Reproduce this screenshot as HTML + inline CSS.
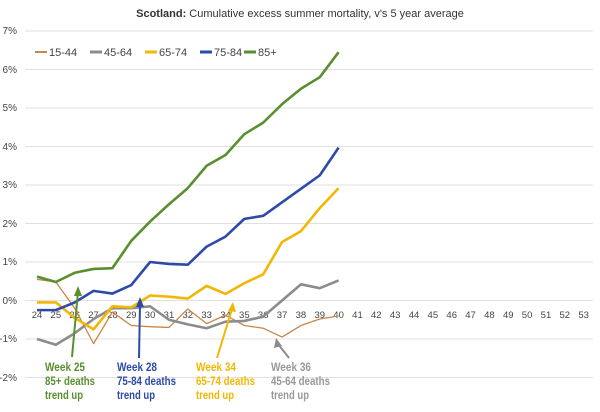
<!DOCTYPE html><html><head><style>body{margin:0;background:#fff}svg{font-family:"Liberation Sans",sans-serif}</style></head><body>
<svg width="600" height="407" viewBox="0 0 600 407" xmlns="http://www.w3.org/2000/svg">
<text x="300" y="17" text-anchor="middle" font-size="11" fill="#333"><tspan font-weight="bold">Scotland:</tspan> Cumulative excess summer mortality, v's 5 year average</text>
<g stroke="#e0e0e0" stroke-width="1">
<line x1="25" x2="593" y1="31" y2="31"/><line x1="25" x2="593" y1="69.5" y2="69.5"/><line x1="25" x2="593" y1="108" y2="108"/><line x1="25" x2="593" y1="146.5" y2="146.5"/><line x1="25" x2="593" y1="185" y2="185"/><line x1="25" x2="593" y1="223.5" y2="223.5"/><line x1="25" x2="593" y1="262" y2="262"/><line x1="25" x2="593" y1="300.5" y2="300.5"/><line x1="25" x2="593" y1="339" y2="339"/><line x1="25" x2="593" y1="377.5" y2="377.5"/>
</g>
<g font-size="10" fill="#444" text-anchor="end">
<text x="17" y="34">7%</text><text x="17" y="73">6%</text><text x="17" y="111">5%</text><text x="17" y="150">4%</text><text x="17" y="188">3%</text><text x="17" y="227">2%</text><text x="17" y="265">1%</text><text x="17" y="304">0%</text><text x="17" y="342">-1%</text><text x="17" y="381">-2%</text>
</g>
<g font-size="9.5" fill="#444" text-anchor="middle" id="xl"></g>
<g id="series" fill="none" stroke-linejoin="round"></g>
<g font-size="11" fill="#444">
<line x1="35" x2="47" y1="52" y2="52" stroke="#c8864a" stroke-width="2"/><text x="49" y="56">15-44</text>
<line x1="90" x2="102" y1="52" y2="52" stroke="#8c8c8c" stroke-width="3"/><text x="104" y="56">45-64</text>
<line x1="145" x2="157" y1="52" y2="52" stroke="#f2b705" stroke-width="3"/><text x="159" y="56">65-74</text>
<line x1="200" x2="212" y1="52" y2="52" stroke="#2e4aa8" stroke-width="3"/><text x="214" y="56">75-84</text>
<line x1="244" x2="256" y1="52" y2="52" stroke="#5a8f2e" stroke-width="3"/><text x="258" y="56">85+</text>
</g>
<g stroke-width="2" fill="none">
<line x1="72" y1="357" x2="78" y2="292" stroke="#5a8f2e"/><polygon points="78,286 74,296 82,296" fill="#5a8f2e" stroke="none"/>
<line x1="139" y1="358" x2="140" y2="304" stroke="#2e4aa8"/><polygon points="140,297 136,307 144,307" fill="#2e4aa8" stroke="none"/>
<line x1="217" y1="358" x2="232" y2="309" stroke="#f2b705"/><polygon points="233,302 228,311 236,312" fill="#f2b705" stroke="none"/>
<line x1="289" y1="358" x2="278" y2="344" stroke="#8c8c8c"/><polygon points="276,338 274,348 282,346" fill="#8c8c8c" stroke="none"/>
</g>
<g font-size="12" font-weight="bold">
<text fill="#5a8f2e"><tspan x="45" y="371" textLength="40" lengthAdjust="spacingAndGlyphs">Week 25</tspan><tspan x="45" y="385" textLength="50" lengthAdjust="spacingAndGlyphs">85+ deaths</tspan><tspan x="45" y="399" textLength="38" lengthAdjust="spacingAndGlyphs">trend up</tspan></text>
<text fill="#2e4aa8"><tspan x="117" y="371" textLength="40" lengthAdjust="spacingAndGlyphs">Week 28</tspan><tspan x="117" y="385" textLength="59" lengthAdjust="spacingAndGlyphs">75-84 deaths</tspan><tspan x="117" y="399" textLength="38" lengthAdjust="spacingAndGlyphs">trend up</tspan></text>
<text fill="#f2b705"><tspan x="196" y="371" textLength="40" lengthAdjust="spacingAndGlyphs">Week 34</tspan><tspan x="196" y="385" textLength="59" lengthAdjust="spacingAndGlyphs">65-74 deaths</tspan><tspan x="196" y="399" textLength="38" lengthAdjust="spacingAndGlyphs">trend up</tspan></text>
<text fill="#999"><tspan x="271" y="371" textLength="40" lengthAdjust="spacingAndGlyphs">Week 36</tspan><tspan x="271" y="385" textLength="59" lengthAdjust="spacingAndGlyphs">45-64 deaths</tspan><tspan x="271" y="399" textLength="38" lengthAdjust="spacingAndGlyphs">trend up</tspan></text>
</g>
</svg>
<script>
const X=w=>37+(w-24)*18.85,Y=v=>300.5-38.5*v;
let xl=document.getElementById('xl');
for(let w=24;w<=53;w++){let t=document.createElementNS('http://www.w3.org/2000/svg','text');t.setAttribute('x',X(w));t.setAttribute('y',318);t.textContent=w;xl.appendChild(t);}
const S=[
['#c8864a',1.3,[0.55,0.48,-0.2,-1.12,-0.3,-0.65,-0.68,-0.7,-0.22,-0.6,-0.38,-0.65,-0.72,-0.95,-0.65,-0.48,-0.4]],
['#8c8c8c',2.6,[-1.0,-1.15,-0.85,-0.48,-0.2,-0.2,-0.15,-0.5,-0.62,-0.72,-0.55,-0.53,-0.42,0.0,0.42,0.32,0.52]],
['#f2b705',2.6,[-0.05,-0.05,-0.45,-0.75,-0.15,-0.18,0.13,0.1,0.05,0.38,0.17,0.45,0.68,1.52,1.8,2.4,2.92]],
['#2e4aa8',2.6,[-0.25,-0.25,-0.05,0.25,0.18,0.4,1.0,0.95,0.93,1.4,1.66,2.12,2.2,2.55,2.9,3.25,3.97]],
['#5a8f2e',2.6,[0.62,0.48,0.72,0.82,0.84,1.55,2.05,2.5,2.92,3.5,3.78,4.32,4.62,5.1,5.5,5.8,6.45]]];
let g=document.getElementById('series');
S.forEach(([c,w,d])=>{let p=document.createElementNS('http://www.w3.org/2000/svg','polyline');p.setAttribute('points',d.map((v,i)=>X(24+i)+','+Y(v)).join(' '));p.setAttribute('stroke',c);p.setAttribute('stroke-width',w);g.appendChild(p);});
</script>
</body></html>
